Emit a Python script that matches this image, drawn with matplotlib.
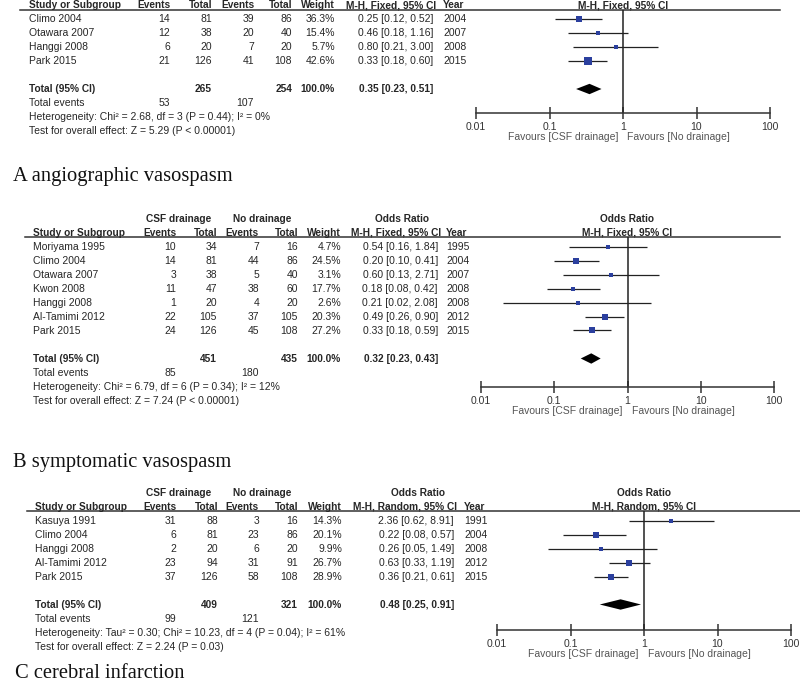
import matplotlib
matplotlib.use("Agg")
import numpy as np
import matplotlib.pyplot as plt
from matplotlib.ticker import FixedLocator, FixedFormatter, NullLocator

plt.rcParams['font.family'] = ['Liberation Sans', 'DejaVu Sans']

# ---- A angiographic vasospasm ----
a_study = ["Climo 2004", "Otawara 2007", "Hanggi 2008", "Park 2015"]
a_ev_csf = [14, 12, 6, 21]
a_tot_csf = [81, 38, 20, 126]
a_ev_no = [39, 20, 7, 41]
a_tot_no = [86, 40, 20, 108]
a_weight = [36.3, 15.4, 5.7, 42.6]
a_or = [0.25, 0.46, 0.80, 0.33]
a_lo = [0.12, 0.18, 0.21, 0.18]
a_hi = [0.52, 1.16, 3.00, 0.60]
a_year = [2004, 2007, 2008, 2015]
a_total_n = [265, 254]
a_total_ev = [53, 107]
a_total_or = [0.35, 0.23, 0.51]
a_het = "Heterogeneity: Chi\u00b2 = 2.68, df = 3 (P = 0.44); I\u00b2 = 0%"
a_test = "Test for overall effect: Z = 5.29 (P < 0.00001)"

# ---- B symptomatic vasospasm ----
b_study = ["Moriyama 1995", "Climo 2004", "Otawara 2007", "Kwon 2008",
           "Hanggi 2008", "Al-Tamimi 2012", "Park 2015"]
b_ev_csf = [10, 14, 3, 11, 1, 22, 24]
b_tot_csf = [34, 81, 38, 47, 20, 105, 126]
b_ev_no = [7, 44, 5, 38, 4, 37, 45]
b_tot_no = [16, 86, 40, 60, 20, 105, 108]
b_weight = [4.7, 24.5, 3.1, 17.7, 2.6, 20.3, 27.2]
b_or = [0.54, 0.20, 0.60, 0.18, 0.21, 0.49, 0.33]
b_lo = [0.16, 0.10, 0.13, 0.08, 0.02, 0.26, 0.18]
b_hi = [1.84, 0.41, 2.71, 0.42, 2.08, 0.90, 0.59]
b_year = [1995, 2004, 2007, 2008, 2008, 2012, 2015]
b_total_n = [451, 435]
b_total_ev = [85, 180]
b_total_or = [0.32, 0.23, 0.43]
b_het = "Heterogeneity: Chi\u00b2 = 6.79, df = 6 (P = 0.34); I\u00b2 = 12%"
b_test = "Test for overall effect: Z = 7.24 (P < 0.00001)"

# ---- C cerebral infarction ----
c_study = ["Kasuya 1991", "Climo 2004", "Hanggi 2008", "Al-Tamimi 2012", "Park 2015"]
c_ev_csf = [31, 6, 2, 23, 37]
c_tot_csf = [88, 81, 20, 94, 126]
c_ev_no = [3, 23, 6, 31, 58]
c_tot_no = [16, 86, 20, 91, 108]
c_weight = [14.3, 20.1, 9.9, 26.7, 28.9]
c_or = [2.36, 0.22, 0.26, 0.63, 0.36]
c_lo = [0.62, 0.08, 0.05, 0.33, 0.21]
c_hi = [8.91, 0.57, 1.49, 1.19, 0.61]
c_year = [1991, 2004, 2008, 2012, 2015]
c_total_n = [409, 321]
c_total_ev = [99, 121]
c_total_or = [0.48, 0.25, 0.91]
c_het = "Heterogeneity: Tau\u00b2 = 0.30; Chi\u00b2 = 10.23, df = 4 (P = 0.04); I\u00b2 = 61%"
c_test = "Test for overall effect: Z = 2.24 (P = 0.03)"

tick_vals = [0.01, 0.1, 1, 10, 100]
tick_labels = ["0.01", "0.1", "1", "10", "100"]

W, H = 800, 691
PITCH = 14
FS = 7.5
FSB = 7.3
TXT = '#262626'
SQ = '#2b3f9e'

fig = plt.figure(figsize=(W / 100, H / 100), dpi=100)
base = fig.add_axes([0, 0, 1, 1])
base.set_xlim(0, W)
base.set_ylim(H, 0)
base.axis('off')


def draw_panel(d, lay):
    ul = lay['underline']
    r0 = ul + 9.5
    n = len(d['study'])
    cx = lay['cols']  # study, ev1, tot1, ev2, tot2, weight, or_right, year
    hy = ul - 4.5
    gy = hy - 13.5
    bold = dict(fontsize=FSB, color=TXT, fontweight='bold', va='center')
    norm = dict(fontsize=FS, color=TXT, va='center')
    if lay['groups']:
        base.text((cx[1] + cx[2]) / 2 - 18, gy, "CSF drainage", ha='center', **bold)
        base.text((cx[3] + cx[4]) / 2 - 16, gy, "No drainage", ha='center', **bold)
        base.text(cx[6] - 36, gy, "Odds Ratio", ha='center', **bold)
        base.text(lay['x1'], gy, "Odds Ratio", ha='center', **bold)
    base.text(cx[0], hy, "Study or Subgroup", ha='left', **bold)
    base.text(cx[1], hy, "Events", ha='right', **bold)
    base.text(cx[2], hy, "Total", ha='right', **bold)
    base.text(cx[3], hy, "Events", ha='right', **bold)
    base.text(cx[4], hy, "Total", ha='right', **bold)
    base.text(cx[5], hy, "Weight", ha='right', **bold)
    base.text(cx[6] + 3, hy, d['method'], ha='right', **bold)
    base.text(cx[7], hy, "Year", ha='left', **bold)
    base.text(lay['x1'], hy, d['method'], ha='center', **bold)
    base.plot(lay['line'], [ul, ul], color='#333333', lw=1.1)

    for i in range(n):
        y = r0 + PITCH * i
        base.text(cx[0], y, d['study'][i], ha='left', **norm)
        base.text(cx[1], y, str(d['ev1'][i]), ha='right', **norm)
        base.text(cx[2], y, str(d['tot1'][i]), ha='right', **norm)
        base.text(cx[3], y, str(d['ev2'][i]), ha='right', **norm)
        base.text(cx[4], y, str(d['tot2'][i]), ha='right', **norm)
        base.text(cx[5], y, f"{d['w'][i]:.1f}%", ha='right', **norm)
        base.text(cx[6], y, f"{d['or'][i]:.2f} [{d['lo'][i]:.2f}, {d['hi'][i]:.2f}]", ha='right', **norm)
        base.text(cx[7], y, str(d['year'][i]), ha='left', **norm)

    yt = r0 + PITCH * (n + 1)
    base.text(cx[0], yt, "Total (95% CI)", ha='left', **bold)
    base.text(cx[2], yt, str(d['tn'][0]), ha='right', **bold)
    base.text(cx[4], yt, str(d['tn'][1]), ha='right', **bold)
    base.text(cx[5], yt, "100.0%", ha='right', **bold)
    tor = d['tor']
    base.text(cx[6], yt, f"{tor[0]:.2f} [{tor[1]:.2f}, {tor[2]:.2f}]", ha='right', **bold)
    base.text(cx[0], yt + PITCH, "Total events", ha='left', **norm)
    base.text(cx[1], yt + PITCH, str(d['tev'][0]), ha='right', **norm)
    base.text(cx[3], yt + PITCH, str(d['tev'][1]), ha='right', **norm)
    base.text(cx[0], yt + 2 * PITCH, d['het'], ha='left', **norm)
    base.text(cx[0], yt + 3 * PITCH, d['test'], ha='left', **norm)

    base.text(lay['title_x'], lay['title_y'], d['title'], ha='left', va='baseline',
              fontsize=14.8, family='Liberation Serif', color='#111111')

    # forest plot
    fx0, fx1, axy = lay['fx0'], lay['fx1'], lay['axis']
    ax = fig.add_axes([fx0 / W, 1 - axy / H, (fx1 - fx0) / W, (axy - ul) / H])
    ax.patch.set_alpha(0)
    ax.set_xscale('log')
    ax.set_xlim(0.01, 100)
    ax.set_ylim((axy - r0) / PITCH, (ul - r0) / PITCH)
    for s in ['top', 'right', 'left']:
        ax.spines[s].set_visible(False)
    ax.spines['bottom'].set_color('#333333')
    ax.spines['bottom'].set_linewidth(1.1)
    ax.yaxis.set_visible(False)
    ax.xaxis.set_major_locator(FixedLocator(tick_vals))
    ax.xaxis.set_major_formatter(FixedFormatter(tick_labels))
    ax.xaxis.set_minor_locator(NullLocator())
    ax.tick_params(axis='x', direction='inout', length=8, width=1.1, color='#333333',
                   labelsize=FS, labelcolor='#333333', pad=2.5)
    ax.axvline(1, color='#222222', lw=1.1)
    rows = np.arange(n)
    ax.hlines(rows, d['lo'], d['hi'], color='#222222', lw=0.9)
    for i in range(n):
        ax.plot(d['or'][i], rows[i], marker='s', ms=max(0.82 * np.sqrt(d['w'][i]), 2.6),
                color=SQ, mew=0, linestyle='none', zorder=3)
    h = 0.37
    ax.fill([tor[1], tor[0], tor[2], tor[0]], [n + 1, n + 1 - h, n + 1, n + 1 + h],
            color='black', lw=0)
    ax.annotate("Favours [CSF drainage]", xy=(1, 0), xycoords=('data', 'axes fraction'),
                xytext=(-5, -24), textcoords='offset pixels', ha='right', va='center',
                fontsize=FS, color='#555555')
    ax.annotate("Favours [No drainage]", xy=(1, 0), xycoords=('data', 'axes fraction'),
                xytext=(4, -24), textcoords='offset pixels', ha='left', va='center',
                fontsize=FS, color='#555555')


panels = [
    (dict(study=a_study, ev1=a_ev_csf, tot1=a_tot_csf, ev2=a_ev_no, tot2=a_tot_no,
          w=a_weight, year=a_year, tn=a_total_n, tev=a_total_ev,
          tor=a_total_or, het=a_het, test=a_test, title="A angiographic vasospasm",
          method="M-H, Fixed, 95% CI", lo=a_lo, hi=a_hi, **{'or': a_or}),
     dict(underline=9.5, cols=[29, 170, 212, 254, 292, 335, 433, 443], groups=False,
          line=[20, 780], fx0=476, fx1=770, x1=623, axis=113, title_x=13, title_y=181)),
    (dict(study=b_study, ev1=b_ev_csf, tot1=b_tot_csf, ev2=b_ev_no, tot2=b_tot_no,
          w=b_weight, year=b_year, tn=b_total_n, tev=b_total_ev,
          tor=b_total_or, het=b_het, test=b_test, title="B symptomatic vasospasm",
          method="M-H, Fixed, 95% CI", lo=b_lo, hi=b_hi, **{'or': b_or}),
     dict(underline=237, cols=[33, 176, 217, 259, 298, 341, 438, 446], groups=True,
          line=[25, 780], fx0=481, fx1=774, x1=627, axis=387, title_x=13, title_y=467)),
    (dict(study=c_study, ev1=c_ev_csf, tot1=c_tot_csf, ev2=c_ev_no, tot2=c_tot_no,
          w=c_weight, year=c_year, tn=c_total_n, tev=c_total_ev,
          tor=c_total_or, het=c_het, test=c_test, title="C cerebral infarction",
          method="M-H, Random, 95% CI", lo=c_lo, hi=c_hi, **{'or': c_or}),
     dict(underline=511, cols=[35, 176, 218, 259, 298, 342, 454, 464], groups=True,
          line=[27, 800], fx0=497, fx1=791, x1=644, axis=630, title_x=15, title_y=678)),
]

for d, lay in panels:
    draw_panel(d, lay)

fig.savefig("out.png", dpi=100)
